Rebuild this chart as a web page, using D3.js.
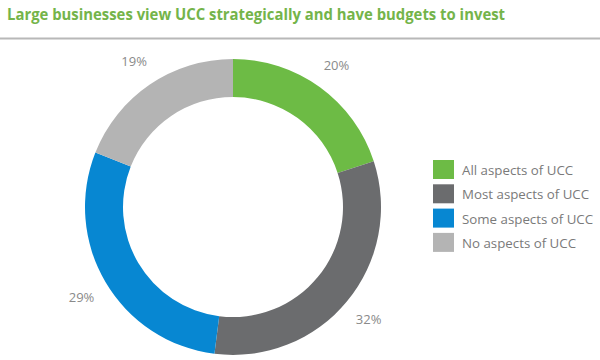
<!DOCTYPE html>
<html>
<head>
<meta charset="utf-8">
<script src="https://cdn.jsdelivr.net/npm/d3@7"></script>
<style>
  html, body { margin: 0; padding: 0; background: #fff; }
  svg { display: block; }
</style>
</head>
<body>
<svg id="chart" width="600" height="360"></svg>
<script>
const title = "Large businesses view UCC strategically and have budgets to invest";
const categories = ["All aspects of UCC", "Most aspects of UCC", "Some aspects of UCC", "No aspects of UCC"];
const values = [20, 32, 29, 19];
const colors = ["#6dbb45", "#6b6c6e", "#0787d2", "#b4b4b4"];

const svg = d3.select("#chart");
const font = "'Open Sans', 'Noto Sans', sans-serif";

// Title
svg.append("text")
  .attr("x", 7).attr("y", 20)
  .attr("font-family", font)
  .attr("font-weight", "bold")
  .attr("font-size", 16)
  .attr("textLength", 498)
  .attr("lengthAdjust", "spacingAndGlyphs")
  .attr("fill", "#74b44a")
  .text(title);

// Separator line
svg.append("line")
  .attr("x1", 0).attr("x2", 600)
  .attr("y1", 38.5).attr("y2", 38.5)
  .attr("stroke", "#b8b8b8").attr("stroke-width", 2);

const cx = 233, cy = 207, rOuter = 148, rInner = 110;
const data = categories.map((c, i) => ({ cat: c, value: values[i], color: colors[i] }));
const pie = d3.pie().sort(null).value(d => d.value);
const arcs = pie(data);
const arc = d3.arc().innerRadius(rInner).outerRadius(rOuter);
const labelArc = d3.arc().innerRadius(176).outerRadius(176);

const g = svg.append("g").attr("transform", `translate(${cx},${cy})`);
g.selectAll("path").data(arcs).enter().append("path")
  .attr("d", arc)
  .attr("fill", d => d.data.color);

g.selectAll("text.lbl").data(arcs).enter().append("text")
  .attr("class", "lbl")
  .attr("transform", d => `translate(${labelArc.centroid(d)})`)
  .attr("text-anchor", "middle")
  .attr("dominant-baseline", "central")
  .attr("font-family", font)
  .attr("font-size", 13)
  .attr("fill", "#8a8a8a")
  .text(d => d.data.value + "%");

// Legend
const legend = svg.append("g").attr("transform", "translate(433,160)");
const items = legend.selectAll("g").data(data).enter().append("g")
  .attr("transform", (d, i) => `translate(0,${i * 24.3})`);
items.append("rect").attr("width", 21).attr("height", 19).attr("fill", d => d.color);
items.append("text")
  .attr("x", 29).attr("y", 10)
  .attr("dominant-baseline", "central")
  .attr("font-family", font)
  .attr("font-size", 13.3)
  .attr("fill", "#7a7a7a")
  .text(d => d.cat);
</script>
</body>
</html>
